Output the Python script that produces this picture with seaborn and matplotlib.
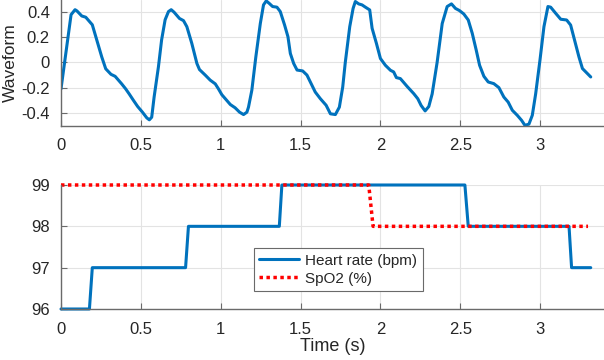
import numpy as np
import pandas as pd
import seaborn as sns
from matplotlib import pyplot as plt

# waveform trace (time in s, amplitude)
wave_t = [0.000, 0.035, 0.063, 0.088, 0.100, 0.130, 0.155, 0.196, 0.224, 0.255,
          0.280, 0.313, 0.339, 0.380, 0.405, 0.427, 0.453, 0.480, 0.510, 0.537,
          0.553, 0.568, 0.583, 0.610, 0.630, 0.652, 0.673, 0.690, 0.708, 0.742,
          0.767, 0.788, 0.819, 0.851, 0.867, 0.903, 0.934, 0.966, 0.986, 1.007,
          1.034, 1.060, 1.090, 1.118, 1.143, 1.164, 1.174, 1.195, 1.220, 1.248,
          1.268, 1.285, 1.304, 1.325, 1.352, 1.373, 1.400, 1.421, 1.436, 1.457,
          1.478, 1.513, 1.540, 1.567, 1.592, 1.624, 1.660, 1.687, 1.718, 1.743,
          1.764, 1.780, 1.808, 1.829, 1.843, 1.864, 1.885, 1.906, 1.933, 1.948,
          1.975, 2.000, 2.031, 2.063, 2.083, 2.100, 2.125, 2.167, 2.209, 2.234,
          2.255, 2.280, 2.303, 2.324, 2.355, 2.387, 2.418, 2.445, 2.470, 2.495,
          2.522, 2.550, 2.575, 2.600, 2.621, 2.648, 2.675, 2.710, 2.742, 2.773,
          2.800, 2.826, 2.857, 2.884, 2.905, 2.930, 2.951, 2.972, 2.999, 3.024,
          3.049, 3.066, 3.097, 3.129, 3.166, 3.191, 3.216, 3.243, 3.265, 3.292,
          3.317]
wave_y = [-0.21, 0.12, 0.38, 0.42, 0.41, 0.37, 0.36, 0.30, 0.18, 0.045,
          -0.05, -0.094, -0.11, -0.17, -0.21, -0.25, -0.30, -0.35, -0.395, -0.44,
          -0.456, -0.435, -0.275, -0.035, 0.18, 0.34, 0.405, 0.42, 0.40, 0.35,
          0.333, 0.285, 0.152, -0.008, -0.056, -0.10, -0.14, -0.17, -0.21, -0.256,
          -0.296, -0.334, -0.36, -0.395, -0.414, -0.395, -0.355, -0.22, 0.045, 0.31,
          0.458, 0.49, 0.47, 0.445, 0.44, 0.405, 0.298, 0.205, 0.072, -0.008,
          -0.06, -0.067, -0.10, -0.17, -0.235, -0.288, -0.34, -0.408, -0.414, -0.355,
          -0.195, 0.0, 0.285, 0.43, 0.485, 0.466, 0.458, 0.44, 0.418, 0.272,
          0.152, 0.032, -0.022, -0.062, -0.075, -0.12, -0.128, -0.19, -0.248, -0.288,
          -0.342, -0.385, -0.35, -0.25, 0.0, 0.31, 0.445, 0.466, 0.43, 0.413,
          0.386, 0.338, 0.232, 0.098, -0.022, -0.11, -0.155, -0.168, -0.20, -0.275,
          -0.315, -0.38, -0.42, -0.46, -0.50, -0.49, -0.42, -0.25, 0.018, 0.285,
          0.445, 0.44, 0.392, 0.344, 0.338, 0.298, 0.178, 0.045, -0.048, -0.083,
          -0.115]

# vital signs (step changes)
hr_t = [0, 0.178, 0.196, 0.780, 0.798, 1.367, 1.383, 2.529, 2.550, 3.181, 3.197, 3.317]
hr_v = [96, 96, 97, 97, 98, 98, 99, 99, 98, 98, 97, 97]
spo2_t = [0, 1.927, 1.954, 3.300]
spo2_v = [99, 99, 98, 98]

x_ticks = [0, 0.5, 1, 1.5, 2, 2.5, 3]
x_ticklabels = ['0', '0.5', '1', '1.5', '2', '2.5', '3']

sns.set_theme(style='whitegrid')
plt.rcParams['font.family'] = ['Liberation Sans', 'DejaVu Sans']

blue = '#0072BD'
fig = plt.figure(figsize=(6.04, 3.6), dpi=100)
ax1 = fig.add_axes([61 / 604, 1 - 126 / 360, 543 / 604, 126 / 360])
ax2 = fig.add_axes([61 / 604, 1 - 309 / 360, 543 / 604, 124 / 360])

wave = pd.DataFrame({'t': wave_t, 'y': wave_y})
sns.lineplot(data=wave, x='t', y='y', ax=ax1, color=blue, lw=2.2, sort=False, estimator=None)

hr = pd.DataFrame({'t': hr_t, 'v': hr_v})
sp = pd.DataFrame({'t': spo2_t, 'v': spo2_v})
sns.lineplot(data=hr, x='t', y='v', ax=ax2, color=blue, lw=2.2, sort=False, estimator=None,
             label='Heart rate (bpm)', clip_on=False)
sns.lineplot(data=sp, x='t', y='v', ax=ax2, color='red', lw=2.5, sort=False, estimator=None,
             label='SpO2 (%)', clip_on=False, dashes=False)
ax2.lines[-1].set_linestyle((0, (1, 1)))

for ax in (ax1, ax2):
    ax.set_facecolor('white')
    ax.set_xlim(0, 3.4)
    ax.set_xticks(x_ticks)
    ax.set_xticklabels(x_ticklabels)
    ax.grid(True, color='#e3e3e3', lw=0.8)
    for s in ('top', 'right'):
        ax.spines[s].set_visible(False)
    for s in ('left', 'bottom'):
        ax.spines[s].set_color('#6a6a6a')
        ax.spines[s].set_linewidth(1.0)
    ax.tick_params(direction='in', length=4, width=0.8, color='#6a6a6a',
                   labelsize=12, labelcolor='#262626', left=True, bottom=True)
    ax.tick_params(axis='x', pad=9)
    ax.tick_params(axis='y', pad=8)
    ax.set_xlabel('')
    ax.set_ylabel('')

ax1.set_ylim(-0.505, 0.497)
ax1.set_yticks([-0.4, -0.2, 0, 0.2, 0.4])
ax1.set_yticklabels(['-0.4', '-0.2', '0', '0.2', '0.4'])
ax1.set_ylabel('Waveform', fontsize=12.5, color='#262626')
ax1.yaxis.set_label_coords((18 - 61) / 543, 0.5)

ax2.set_ylim(96, 99)
ax2.set_yticks([96, 97, 98, 99])
ax2.set_xlabel('Time (s)', fontsize=13, color='#262626', labelpad=1)

leg = ax2.legend(loc='lower left', bbox_to_anchor=((254 - 61) / 543, (309 - 291) / 124),
                 fontsize=11, handlelength=2.6, frameon=True, fancybox=False,
                 borderpad=0.35, labelspacing=0.25, handletextpad=0.4, borderaxespad=0)
leg.get_frame().set_edgecolor('#6a6a6a')
leg.get_frame().set_linewidth(0.8)
leg.get_frame().set_alpha(1)

plt.savefig('out.png', dpi=100)
